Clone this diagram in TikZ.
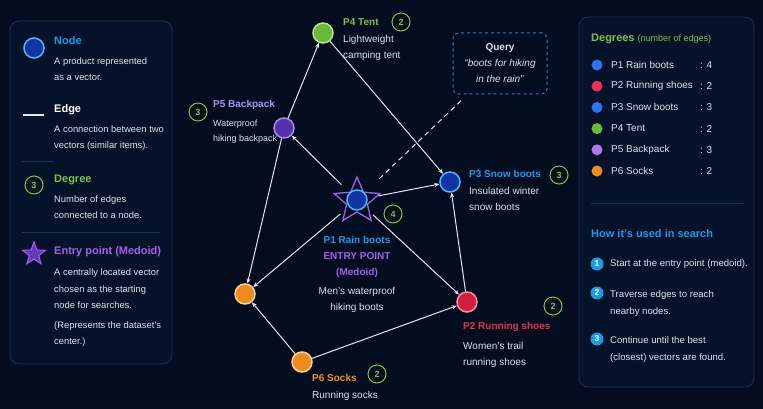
\documentclass[tikz,border=0pt]{standalone}
\usepackage{fontspec}
\setmainfont{Liberation Sans}
\usetikzlibrary{arrows.meta,shapes.geometric}

\definecolor{bgcol}{HTML}{040C20}
\definecolor{panelcol}{HTML}{06122A}
\definecolor{panelline}{HTML}{1C3253}
\definecolor{txtcol}{HTML}{DCE1EA}
\definecolor{edgecol}{HTML}{E2E6EE}
\definecolor{cblue}{HTML}{1A9BE8}
\definecolor{nblue}{HTML}{0F35A5}
\definecolor{nbluel}{HTML}{4FB6F5}
\definecolor{cgreen}{HTML}{7CC242}
\definecolor{ngreen}{HTML}{6BB83C}
\definecolor{ngreenl}{HTML}{B6E38E}
\definecolor{cpurple}{HTML}{A45EEA}
\definecolor{npurple}{HTML}{5531B0}
\definecolor{npurplel}{HTML}{A88AE8}
\definecolor{clav}{HTML}{A597EC}
\definecolor{cred}{HTML}{E6334F}
\definecolor{nred}{HTML}{CF1F3E}
\definecolor{nredl}{HTML}{F2929F}
\definecolor{corange}{HTML}{F39121}
\definecolor{norange}{HTML}{EE8A1E}
\definecolor{norangel}{HTML}{FAD29A}
\definecolor{dotblue}{HTML}{2E74EE}
\definecolor{qblue}{HTML}{2A7FC8}

\tikzset{
  panel/.style={rounded corners=9pt,fill=panelcol,draw=panelline,line width=0.8pt},
  sepline/.style={draw=panelline,line width=0.8pt},
  vec/.style={circle,minimum size=20pt,inner sep=0pt,line width=1.5pt},
  degc/.style={circle,draw=cgreen,line width=1pt,minimum size=18pt,inner sep=0pt,
    text=cgreen,font=\fontsize{9}{9}\selectfont\bfseries},
  link/.style={draw=edgecol,line width=1pt,-{Stealth[length=5pt,width=4pt]}},
  head/.style={anchor=west,inner sep=0pt,font=\fontsize{11}{13}\selectfont\bfseries},
  lbl/.style={anchor=west,inner sep=0pt,font=\fontsize{10}{12}\selectfont\bfseries},
  desc/.style={anchor=north west,inner sep=0pt,align=left,text=txtcol,
    font=\fontsize{10}{16}\selectfont},
  lgdesc/.style={desc,font=\fontsize{9.4}{16}\selectfont},
  rowtxt/.style={anchor=west,inner sep=0pt,text=txtcol,font=\fontsize{10}{12}\selectfont},
  steptxt/.style={anchor=north west,inner sep=0pt,align=left,text=txtcol,
    font=\fontsize{9.6}{17}\selectfont},
  bullet/.style={circle,fill=cblue,minimum size=13pt,inner sep=0pt,text=white,
    font=\fontsize{8.5}{9}\selectfont\bfseries}
}

\begin{document}
\begin{tikzpicture}[x=1pt,y=-1pt]
\fill[bgcol] (0,0) rectangle (763,409);
\useasboundingbox (0,0) rectangle (763,409);

% legend
\draw[panel] (10,21) rectangle (172,364);
\node[vec,fill=nblue,draw=nbluel] (lgnode) at (34,48) {};
\node[head,text=cblue] (lgnodet) at (54,41) {Node};
\node[lgdesc] (lgnoded) at (54,57.5) {A product represented\\as a vector.};
\coordinate (lge1) at (23,115);
\coordinate (lge2) at (44,115);
\draw[edgecol,line width=1.2pt] (lge1) -- (lge2);
\node[head,text=white] (lgedget) at (54,110) {Edge};
\node[lgdesc] (lgedged) at (54,125.5) {A connection between two\\vectors (similar items).};
\draw[sepline] (22,161) -- (54,161);
\node[degc] (lgdeg) at (34,185) {3};
\node[head,text=cgreen] (lgdegt) at (54,180) {Degree};
\node[lgdesc] (lgdegd) at (54,195.5) {Number of edges\\connected to a node.};
\draw[sepline] (22,232) -- (160,232);
\node[star,star points=5,star point ratio=2.4,minimum size=24pt,inner sep=0pt,
  fill=npurple!85!cpurple,draw=cpurple,line width=1pt] (lgstar) at (34,254) {};
\node[head,text=cpurple] (lgstart) at (54,252) {Entry point (Medoid)};
\node[lgdesc,font=\fontsize{9.4}{16.5}\selectfont] (lgstard) at (54,268.5)
  {A centrally located vector\\chosen as the starting\\node for searches.};
\node[lgdesc] (lgstarn) at (54,321.5) {(Represents the dataset's\\center.)};

% degrees panel
\draw[panel] (579,17) rectangle (754,387);
\node[head,text=cgreen] (degt) at (591,39)
  {Degrees {\fontsize{9}{11}\selectfont\mdseries (number of edges)}};
\foreach \name/\col/\d [count=\i] in {P1 Rain boots/dotblue/4,P2 Running shoes/cred/2,
  P3 Snow boots/dotblue/3,P4 Tent/ngreen/2,P5 Backpack/cpurple!85!white/3,P6 Socks/norange/2}
{
  \node[circle,fill=\col,minimum size=11pt,inner sep=0pt] (dot\i) at (597,{65+21.2*(\i-1)}) {};
  \node[rowtxt] (row\i) at (611,{65+21.2*(\i-1)}) {\name};
  \node[rowtxt] (num\i) at (700,{65+21.2*(\i-1)}) {: \d};
}
\draw[sepline] (591,203) -- (744,203);
\node[head,text=cblue] (howt) at (591,234) {How it's used in search};
\node[bullet] (b1) at (597,264) {1};
\node[bullet] (b2) at (597,293) {2};
\node[bullet] (b3) at (597,339) {3};
\node[steptxt,anchor=west] (s1) at (610,264) {Start at the entry point (medoid).};
\node[steptxt] (s2) at (610,290.5) {Traverse edges to reach\\nearby nodes.};
\node[steptxt] (s3) at (610,336.5) {Continue until the best\\(closest) vectors are found.};

% query
\node[draw=qblue,dashed,line width=1pt,rounded corners=5pt,minimum width=94pt,
  minimum height=61pt,align=center,text=txtcol,font=\fontsize{10}{16}\selectfont]
  (query) at (500,63.5) {\textbf{Query}\\\textit{“boots for hiking}\\\textit{in the rain”}};

% graph
\node[star,star points=5,star point ratio=2.2,minimum size=48pt,inner sep=0pt,
  draw=cpurple,line width=1.3pt] (p1star) at (357,201) {};
\node[vec,fill=nblue,draw=nbluel] (p1) at (357,200) {};
\node[vec,fill=nblue,draw=nbluel] (p3) at (450,182) {};
\node[vec,fill=nred,draw=nredl] (p2) at (467,302) {};
\node[vec,fill=ngreen,draw=ngreenl] (p4) at (323,33) {};
\node[vec,fill=npurple,draw=npurplel] (p5) at (284,128) {};
\node[vec,fill=norange,draw=norangel] (p6a) at (245,294) {};
\node[vec,fill=norange,draw=norangel] (p6) at (302,362) {};

\draw[link] (p5) -- (p4);
\draw[link] (p4) -- (p3);
\draw[link,shorten <=11pt] (p1) -- (p5);
\draw[link,shorten <=11pt] (p1) -- (p3);
\draw[link,shorten <=11pt] (p1) -- (p2);
\draw[link] (p2) -- (p3);
\draw[link,shorten <=11pt] (p1) -- (p6a);
\draw[link] (p5) -- (p6a);
\draw[link] (p6) -- (p6a);
\draw[link] (p6) -- (p2);
\draw[edgecol,line width=1pt,dash pattern=on 5pt off 4pt,shorten <=20pt,shorten >=7pt] (p1) -- (query);

% labels
\node[lbl,text=cgreen] (p4t) at (343,22) {P4 Tent};
\node[desc] (p4d) at (343,35) {Lightweight\\camping tent};
\node[degc] (p4g) at (401,22) {2};
\node[lbl,text=clav] (p5t) at (213,105) {P5 Backpack};
\node[desc,font=\fontsize{9}{14.5}\selectfont] (p5d) at (213,120) {Waterproof\\hiking backpack};
\node[degc] (p5g) at (198,112) {3};
\node[inner sep=0pt,align=center,font=\fontsize{10}{16}\selectfont\bfseries,anchor=north]
  (p1t) at (357,236.5) {\textcolor{cblue}{P1 Rain boots}\\\textcolor{cpurple}{ENTRY POINT}\\\textcolor{cpurple}{(Medoid)}};
\node[desc,align=center,anchor=north] (p1d) at (357,287) {Men's waterproof\\hiking boots};
\node[degc] (p1g) at (393,214) {4};
\node[lbl,text=cblue] (p3t) at (469,174) {P3 Snow boots};
\node[desc] (p3d) at (469,187) {Insulated winter\\snow boots};
\node[degc] (p3g) at (559,175) {3};
\node[lbl,text=cred] (p2t) at (463,327) {P2 Running shoes};
\node[desc] (p2d) at (463,342) {Women's trail\\running shoes};
\node[degc] (p2g) at (553,306) {2};
\node[lbl,text=corange] (p6t) at (312,378) {P6 Socks};
\node[desc,anchor=west] (p6d) at (312,396) {Running socks};
\node[degc] (p6g) at (377,374) {2};
\end{tikzpicture}
\end{document}
